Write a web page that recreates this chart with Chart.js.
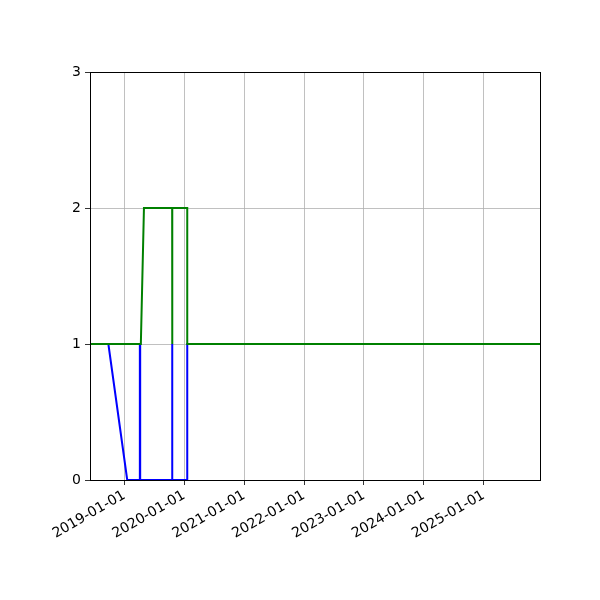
<!DOCTYPE html>
<html>
<head>
<meta charset="utf-8">
<script src="https://cdn.jsdelivr.net/npm/chart.js@4/dist/chart.umd.min.js"></script>
<style>
  html, body { margin: 0; padding: 0; background: #fff; }
  #wrap { width: 600px; height: 600px; }
</style>
</head>
<body>
<div id="wrap"><canvas id="chart" width="600" height="600"></canvas></div>
<script>
// Series (dates as ISO strings, values on the y axis)
const blueDates = ['2018-09-26', '2019-01-19', '2019-04-06', '2019-04-06', '2019-04-08', '2019-04-08',
    '2019-10-20', '2019-10-20', '2019-10-21', '2020-01-20', '2020-01-20', '2025-12-10'];
const blueValues = [1, 0, 0, 1, 1, 0, 0, 1, 0, 0, 1, 1];

const greenDates = ['2018-06-06', '2019-04-12', '2019-05-01', '2019-10-20', '2019-10-20', '2019-10-21',
    '2019-10-21', '2020-01-20', '2020-01-20', '2025-12-10'];
const greenValues = [1, 1, 2, 2, 1, 1, 2, 2, 1, 1];

const xTickLabels = ['2019-01-01', '2020-01-01', '2021-01-01', '2022-01-01', '2023-01-01', '2024-01-01', '2025-01-01'];
const yTickValues = [0, 1, 2, 3];
const xRange = ['2018-06-06', '2025-12-10'];

const toPoints = (dates, values) => dates.map((d, i) => ({ x: Date.parse(d), y: values[i] }));

// Draw the full box around the plot area, like matplotlib spines
const framePlugin = {
    id: 'frame',
    afterDatasetsDraw(chart) {
        const { ctx, chartArea: a } = chart;
        ctx.save();
        ctx.strokeStyle = '#000';
        ctx.lineWidth = 1;
        ctx.strokeRect(Math.round(a.left) + 0.5, Math.round(a.top) + 0.5,
            Math.round(a.right - a.left), Math.round(a.bottom - a.top));
        ctx.restore();
    }
};

const font = { family: 'DejaVu Sans', size: 14 };

new Chart(document.getElementById('chart').getContext('2d'), {
    type: 'line',
    data: {
        datasets: [
            {
                label: 'green',
                data: toPoints(greenDates, greenValues),
                borderColor: '#008000',
                borderWidth: 2,
                pointRadius: 0,
                tension: 0
            },
            {
                label: 'blue',
                data: toPoints(blueDates, blueValues),
                borderColor: '#0000ff',
                borderWidth: 2,
                pointRadius: 0,
                tension: 0
            }
        ]
    },
    options: {
        responsive: false,
        animation: false,
        events: [],
        layout: { padding: { top: 72, right: 60, left: 0, bottom: 0 } },
        plugins: { legend: { display: false }, tooltip: { enabled: false } },
        scales: {
            x: {
                type: 'linear',
                min: Date.parse(xRange[0]),
                max: Date.parse(xRange[1]),
                afterBuildTicks: scale => {
                    scale.ticks = xTickLabels.map(d => ({ value: Date.parse(d) }));
                },
                afterFit: scale => { scale.height = 120; },
                border: { display: false },
                grid: { color: '#b0b0b0', lineWidth: 0.8, tickColor: '#000', tickLength: 5, drawTicks: true },
                ticks: {
                    color: '#000',
                    font: font,
                    minRotation: 30,
                    maxRotation: 30,
                    autoSkip: false,
                    padding: 2,
                    callback: v => new Date(v).toISOString().slice(0, 10)
                }
            },
            y: {
                min: 0,
                max: 3,
                afterBuildTicks: scale => {
                    scale.ticks = yTickValues.map(v => ({ value: v }));
                },
                afterFit: scale => { scale.width = 90; },
                border: { display: false },
                grid: { color: '#b0b0b0', lineWidth: 0.8, tickColor: '#000', tickLength: 5, drawTicks: true },
                ticks: { color: '#000', font: font, padding: 4 }
            }
        }
    },
    plugins: [framePlugin]
});
</script>
</body>
</html>
